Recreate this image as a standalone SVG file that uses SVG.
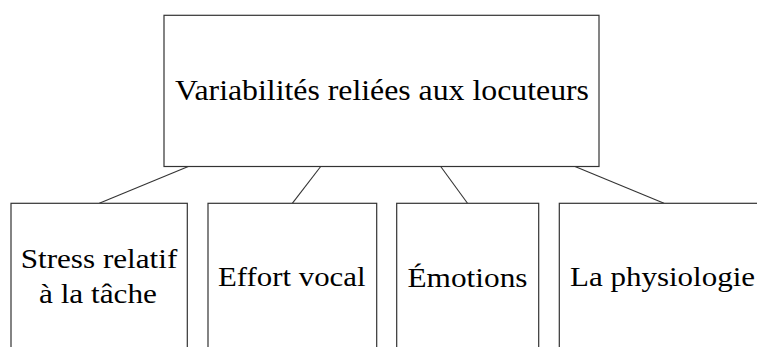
<svg xmlns="http://www.w3.org/2000/svg" width="757" height="347" viewBox="0 0 757 347">
<style>
.box{fill:#fff;stroke:#333;stroke-width:1.2}
.edge{stroke:#333;stroke-width:1.1;fill:none}
.t{font-family:"Liberation Serif","DejaVu Serif",serif;fill:#000;text-anchor:middle}
.big{font-size:30px}
.small{font-size:27px}
</style>
<rect width="757" height="347" fill="#fff"/>
<g id="connectors">
<line class="edge" x1="188.3" y1="166.5" x2="99.3" y2="203.3"/>
<line class="edge" x1="320.7" y1="166.5" x2="292.3" y2="203.3"/>
<line class="edge" x1="440.7" y1="166.5" x2="467.5" y2="203.3"/>
<line class="edge" x1="575" y1="166.5" x2="664" y2="203.3"/>
</g>
<g id="root">
<rect class="box" x="164" y="15.3" width="435" height="151.2"/>
<text class="t big" x="382" y="99.5" textLength="414" lengthAdjust="spacingAndGlyphs">Variabilités reliées aux locuteurs</text>
</g>
<g id="stress">
<rect class="box" x="11" y="203.3" width="176.3" height="160"/>
<text class="t small" x="99" y="267.7" textLength="156.6" lengthAdjust="spacingAndGlyphs">Stress relatif</text>
<text class="t small" x="98" y="303" textLength="118" lengthAdjust="spacingAndGlyphs">à la tâche</text>
</g>
<g id="effort">
<rect class="box" x="208" y="203.3" width="168.7" height="160"/>
<text class="t small" x="291.8" y="285.7" textLength="147.5" lengthAdjust="spacingAndGlyphs">Effort vocal</text>
</g>
<g id="emotions">
<rect class="box" x="396.7" y="203.3" width="142" height="160"/>
<text class="t small" x="467.5" y="286.5" textLength="120" lengthAdjust="spacingAndGlyphs">Émotions</text>
</g>
<g id="physiologie">
<rect class="box" x="559.3" y="203.3" width="210" height="160"/>
<text class="t small" x="662.5" y="286" textLength="185" lengthAdjust="spacingAndGlyphs">La physiologie</text>
</g>
</svg>
